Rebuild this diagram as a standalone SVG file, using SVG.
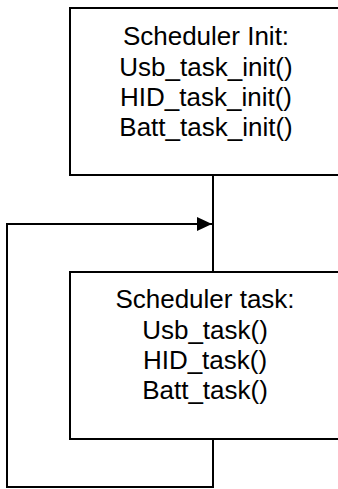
<svg xmlns="http://www.w3.org/2000/svg" width="338" height="489" viewBox="0 0 338 489">
<style>
.box{fill:#fff;stroke:#000;stroke-width:2}
.t{font-family:"Liberation Sans",Arial,sans-serif;font-size:26px;fill:#000;text-anchor:middle}
.c{fill:none;stroke:#000;stroke-width:2}
</style>
<defs>
<marker id="ah" markerWidth="16" markerHeight="14" refX="15" refY="7" orient="auto" markerUnits="userSpaceOnUse">
<path d="M0,0 L15,7 L0,14 Z" fill="#000"/>
</marker>
</defs>
<g id="connectors">
<line class="c" x1="213" y1="175" x2="213" y2="272"/>
<polyline class="c" points="213,439 213,487 7,487 7,224 212,224" marker-end="url(#ah)"/>
</g>
<g id="init">
<rect class="box" x="70" y="8" width="272" height="167"/>
<text class="t" x="206" y="45">Scheduler Init:</text>
<text class="t" x="206" y="75.5">Usb_task_init()</text>
<text class="t" x="206" y="106">HID_task_init()</text>
<text class="t" x="206" y="136">Batt_task_init()</text>
</g>
<g id="task">
<rect class="box" x="70" y="272" width="272" height="167"/>
<text class="t" x="205" y="308">Scheduler task:</text>
<text class="t" x="205" y="338.5">Usb_task()</text>
<text class="t" x="205" y="369">HID_task()</text>
<text class="t" x="205" y="399">Batt_task()</text>
</g>
</svg>
